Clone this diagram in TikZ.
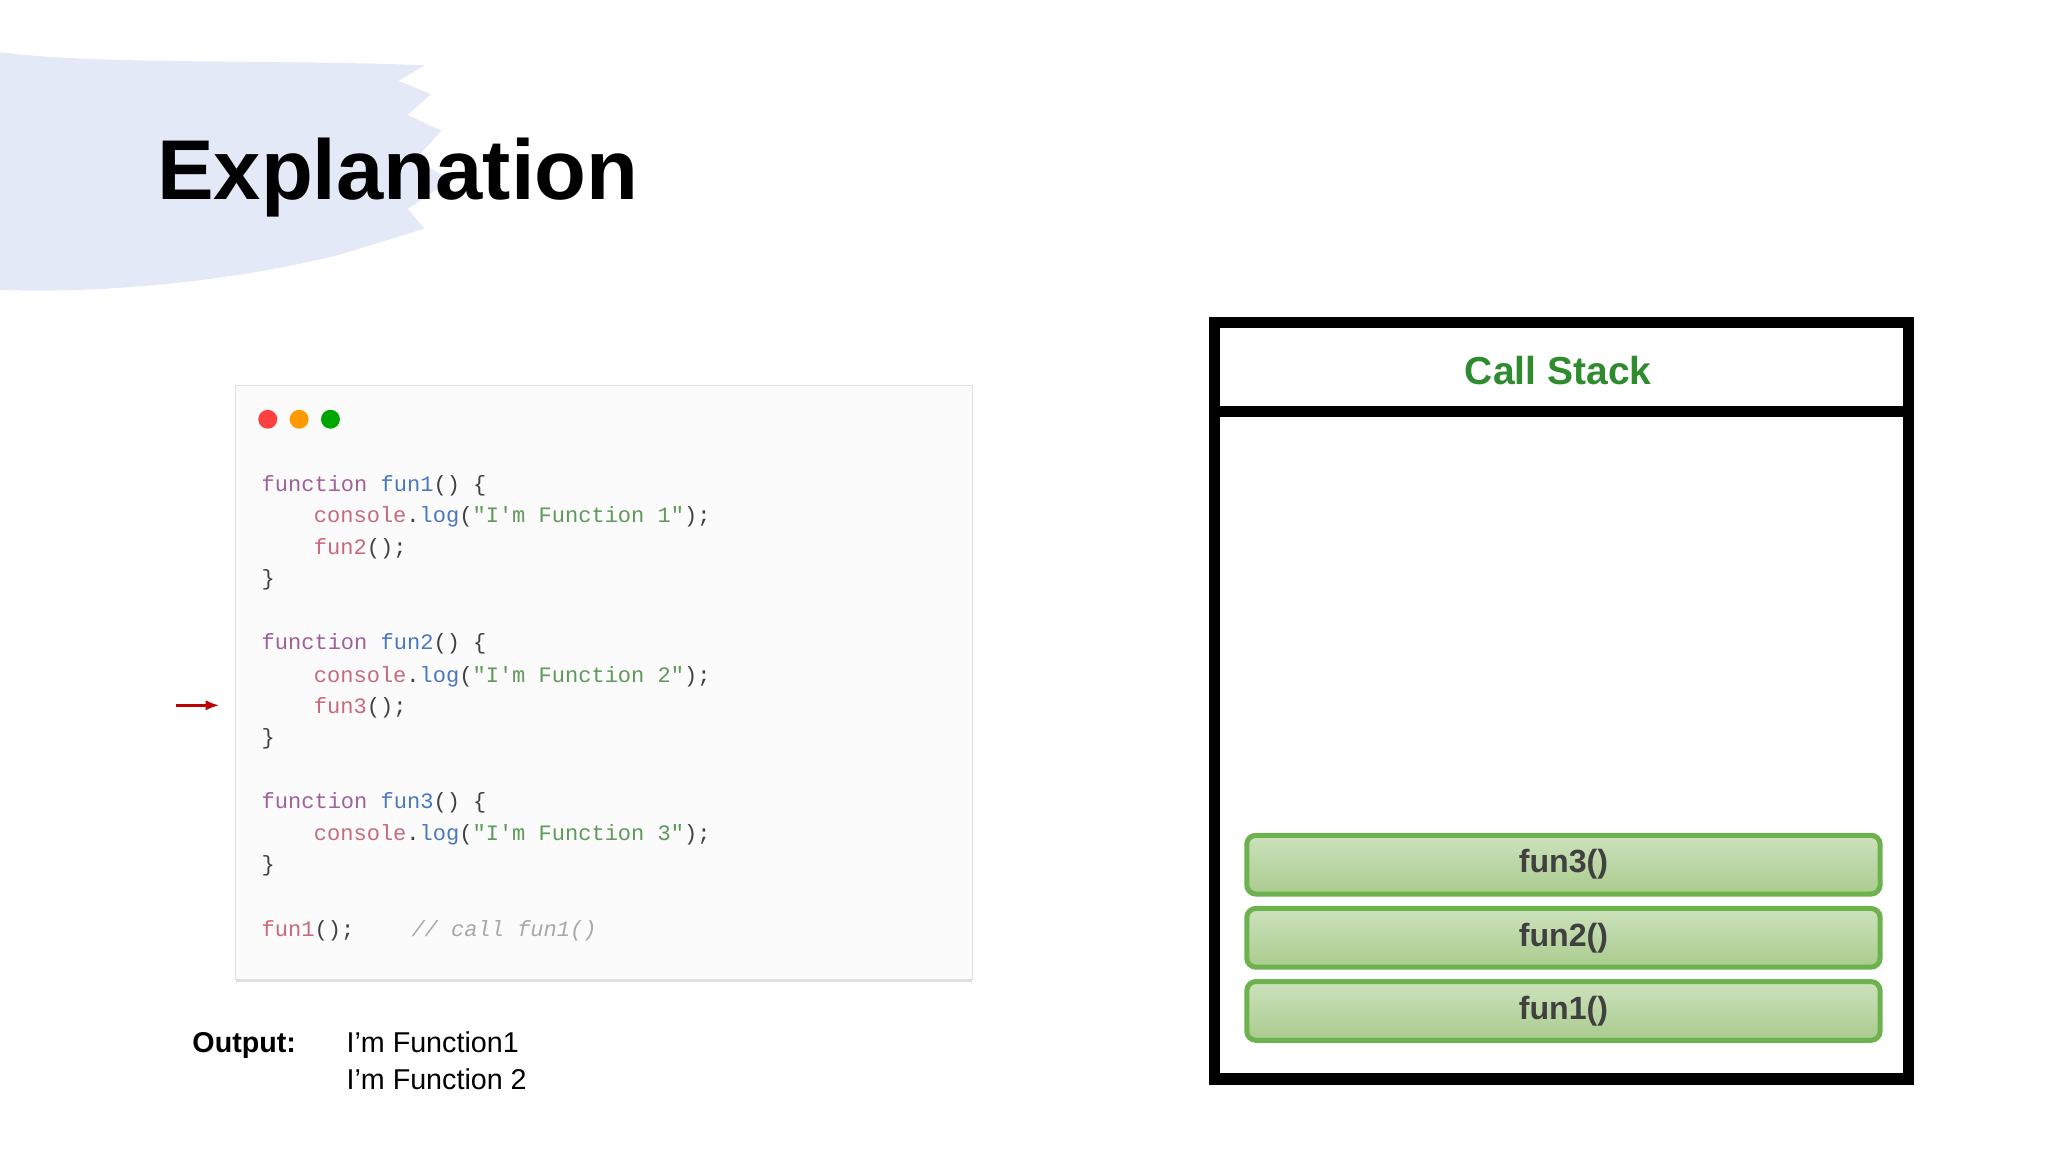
\documentclass[tikz,border=0pt]{standalone}
\usepackage{fontspec}
\setmainfont{Liberation Sans}
\newfontfamily\codefont{Liberation Mono}
\usetikzlibrary{calc,shadows,arrows.meta,positioning}
\definecolor{brushblue}{HTML}{E3E9F6}
\definecolor{stackgreen}{HTML}{2E8B2E}
\definecolor{framegreen}{HTML}{6DB24F}
\definecolor{frametop}{HTML}{CDE2BD}
\definecolor{framebot}{HTML}{A9CB8D}
\definecolor{kwpurple}{HTML}{A0609A}
\definecolor{fnblue}{HTML}{4A78C0}
\definecolor{callred}{HTML}{C96A7A}
\definecolor{strgreen}{HTML}{5E9A5A}
\definecolor{cmtgray}{HTML}{A8A8A8}
\tikzset{
  codeline/.style={anchor=west,inner sep=0pt,font=\codefont\fontsize{9.6}{11}\selectfont,text=black!75},
  frame/.style={draw=framegreen,line width=2.2pt,rounded corners=4pt,
    top color=frametop,bottom color=framebot,
    minimum width=9.7cm,minimum height=0.9cm,font=\bfseries\fontsize{14}{16}\selectfont,text=black!75},
  dot/.style={circle,inner sep=0pt,minimum size=0.29cm}
}
\newcommand{\kw}[1]{\textcolor{kwpurple}{#1}}
\newcommand{\fn}[1]{\textcolor{fnblue}{#1}}
\newcommand{\cl}[1]{\textcolor{callred}{#1}}
\newcommand{\st}[1]{\textcolor{strgreen}{#1}}
\begin{document}
\begin{tikzpicture}[x=0.02cm,y=-0.02cm]
\useasboundingbox[fill=white] (0,0) rectangle (1568,882);
% brush stroke behind the title
\fill[brushblue] (0,40) .. controls (80,50) and (200,45) .. (325,50)
  -- (305,62) -- (330,72) -- (312,88) -- (338,100) -- (318,122) -- (345,138)
  -- (312,160) -- (325,175) -- (260,195) .. controls (180,215) and (80,225) .. (0,222) -- cycle;
\node[anchor=base west,inner sep=0pt,font=\bfseries\fontsize{37}{44}\selectfont] (title) at (120,153) {Explanation};

% code card
\node[draw=black!12,fill=black!1.5,minimum width=11.28cm,minimum height=9.1cm,
  drop shadow={opacity=0.25,shadow xshift=0pt,shadow yshift=-1pt},anchor=north west,inner sep=0pt] (card) at (180,295) {};
\node[dot,fill=red!75] (d1) at (205,321) {};
\node[dot,fill=orange!80!yellow] (d2) at (229,321) {};
\node[dot,fill=green!65!black] (d3) at (253,321) {};
\node[codeline] (l1) at (200,372) {\kw{function} \fn{fun1}() \{};
\node[codeline] (l2) at (240,396) {\cl{console}.\fn{log}(\st{"I'm Function 1"});};
\node[codeline] (l3) at (240,420) {\cl{fun2}();};
\node[codeline] (l4) at (200,444) {\}};
\node[codeline] (l5) at (200,493) {\kw{function} \fn{fun2}() \{};
\node[codeline] (l6) at (240,518) {\cl{console}.\fn{log}(\st{"I'm Function 2"});};
\node[codeline] (l7) at (240,542) {\cl{fun3}();};
\node[codeline] (l8) at (200,566) {\}};
\node[codeline] (l9) at (200,615) {\kw{function} \fn{fun3}() \{};
\node[codeline] (l10) at (240,639) {\cl{console}.\fn{log}(\st{"I'm Function 3"});};
\node[codeline] (l11) at (200,663) {\}};
\node[codeline] (l12) at (200,713) {\cl{fun1}();\quad\quad\ \textcolor{cmtgray}{\itshape // call fun1()}};
\coordinate (ptr) at (135,540);
\draw[-{Latex[length=6pt]},red!75!black,line width=1.3pt] (ptr) -- (168,540);

% output
\node[anchor=base west,inner sep=0pt,font=\bfseries\fontsize{12.5}{15}\selectfont] (outlbl) at (147,806) {Output:};
\node[anchor=base west,inner sep=0pt,font=\fontsize{12.5}{15}\selectfont] (out1) at (265,806) {I’m Function1};
\node[anchor=base west,inner sep=0pt,font=\fontsize{12.5}{15}\selectfont] (out2) at (265,834) {I’m Function 2};

% call stack
\draw[line width=5pt] (930,247) rectangle (1461,826);
\draw[line width=5pt] (930,315) -- (1461,315);
\node[font=\bfseries\fontsize{17}{20}\selectfont,text=stackgreen] (stack) at (1193,284) {Call Stack};
\node[frame] (f3) at (1197,662) {\raisebox{-3pt}{fun3()}};
\node[frame] (f2) at (1197,718) {\raisebox{-3pt}{fun2()}};
\node[frame] (f1) at (1197,774) {\raisebox{-3pt}{fun1()}};
\end{tikzpicture}
\end{document}
